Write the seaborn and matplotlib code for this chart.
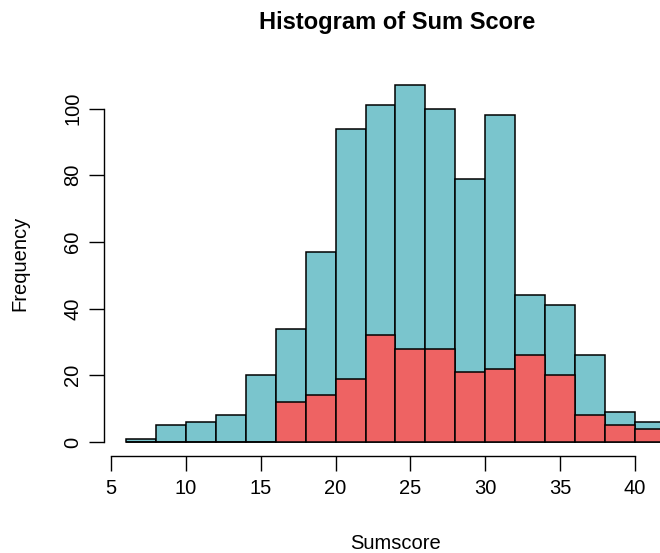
import numpy as np
import pandas as pd
import matplotlib
matplotlib.use("Agg")
import matplotlib.pyplot as plt
import seaborn as sns

# Data (counts per 2-unit bin)
bin_edges = [6, 8, 10, 12, 14, 16, 18, 20, 22, 24, 26, 28, 30, 32, 34, 36, 38, 40, 42]
all_counts = [1, 5, 6, 8, 20, 34, 57, 94, 101, 107, 100, 79, 98, 44, 41, 26, 9, 6]
sub_counts = [0, 0, 0, 0, 0, 12, 14, 19, 32, 28, 28, 21, 22, 26, 20, 8, 5, 4]
x_ticks = [5, 10, 15, 20, 25, 30, 35, 40]
y_ticks = [0, 20, 40, 60, 80, 100]

centers = [(a + b) / 2 for a, b in zip(bin_edges[:-1], bin_edges[1:])]
df_all = pd.DataFrame({"score": centers, "count": all_counts})
df_sub = pd.DataFrame({"score": centers, "count": sub_counts})

sns.set_style("white")
plt.rcParams["font.family"] = ["Liberation Sans", "DejaVu Sans"]
plt.rcParams["text.color"] = "black"
plt.rcParams["axes.labelcolor"] = "black"
plt.rcParams["xtick.color"] = "black"
plt.rcParams["ytick.color"] = "black"

W, H = 660, 553
fig = plt.figure(figsize=(W / 100, H / 100), dpi=100)
left, right = 104.4 / W, 686.5 / W
bottom, top = (H - 456.3) / H, (H - 71) / H
ax = fig.add_axes([left, bottom, right - left, top - bottom])

sns.histplot(data=df_all, x="score", weights="count", bins=bin_edges, ax=ax,
             color="#7AC5CD", alpha=1, edgecolor="black", linewidth=1.1)
sns.histplot(data=df_sub, x="score", weights="count", bins=bin_edges, ax=ax,
             color="#EE6363", alpha=1, edgecolor="black", linewidth=1.1)

ax.set_xlim(6 - 0.04 * 36, 42 + 0.04 * 36)
ax.set_ylim(-0.04 * 107, 107 * 1.04)

for s in ["top", "right"]:
    ax.spines[s].set_visible(False)
ax.spines["left"].set_bounds(0, 100)
ax.spines["bottom"].set_bounds(5, 40)
for s in ["left", "bottom"]:
    ax.spines[s].set_color("black")
    ax.spines[s].set_linewidth(1.0)

ax.set_xticks(x_ticks)
ax.set_xticklabels([str(v) for v in x_ticks], fontsize=14.5, color="black")
ax.set_yticks(y_ticks)
ax.set_yticklabels([str(v) for v in y_ticks], fontsize=14.5, rotation=90, va="center",
                   color="black")
ax.tick_params(axis="both", which="major", length=11, width=1.0, color="black",
               direction="out", bottom=True, left=True, pad=5)

ax.set_xlabel("Sumscore", fontsize=14.5, labelpad=26, color="black")
ax.set_ylabel("Frequency", fontsize=14.5, labelpad=24, color="black")
fig.text(397.5 / W, 1 - 22 / H, "Histogram of Sum Score", ha="center", va="center",
         fontsize=17, fontweight="bold", color="black")

fig.savefig("out.png", dpi=100)
